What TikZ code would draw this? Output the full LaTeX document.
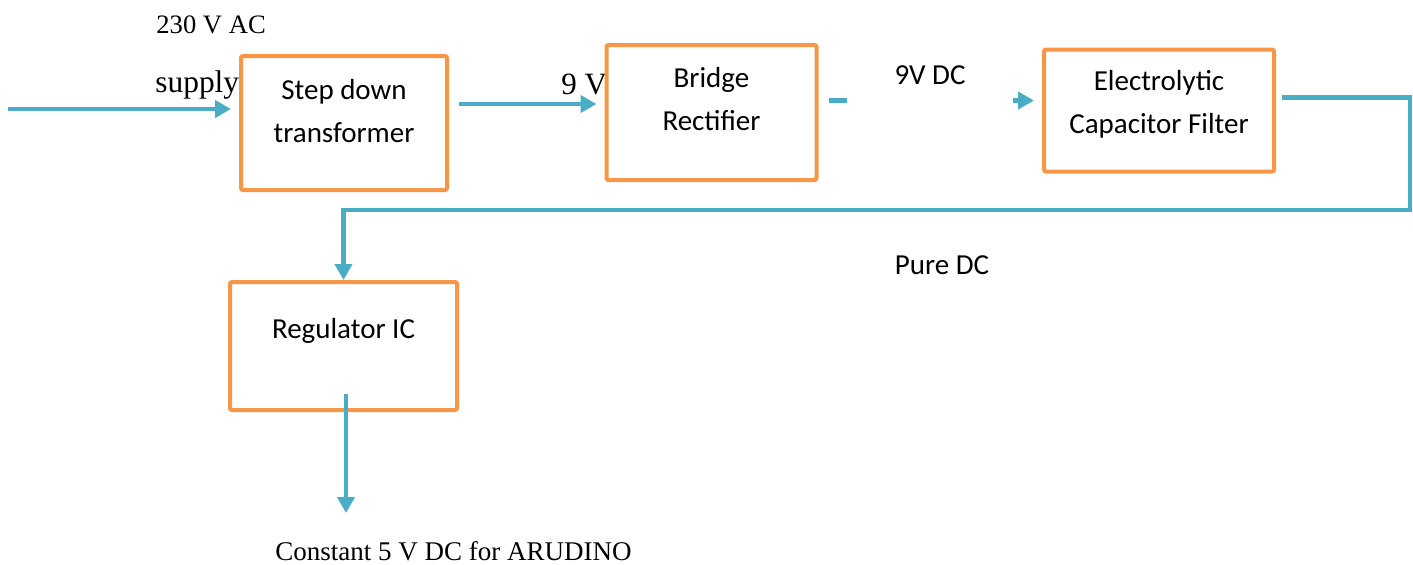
\documentclass[tikz,border=0pt]{standalone}
\usepackage{fontspec}
\setmainfont{Liberation Serif}
\newfontfamily\boxfont{Carlito}
\usetikzlibrary{arrows.meta, positioning}
\definecolor{boxorange}{HTML}{F79646}
\definecolor{flowblue}{HTML}{4BACC6}
\tikzset{
  block/.style={rectangle, rounded corners=1pt, draw=boxorange, line width=2pt, fill=white, inner sep=0pt},
  blocktext/.style={inner sep=0pt, align=center, font=\boxfont\fontsize{14.5}{21.5}\selectfont},
  tag/.style={rectangle, fill=white, inner sep=0pt, font=\boxfont\fontsize{14.5}{17}\selectfont},
  note/.style={inner sep=0pt, anchor=base west},
  arrow/.style={line width=2.3pt, draw=flowblue, -{Triangle[length=8pt, width=8.5pt]}}
}

\begin{document}
\begin{tikzpicture}[x=0.5pt, y=-0.5pt]
  \useasboundingbox (0,0) rectangle (1413,564);

  \node (ac) [note, font=\fontsize{13.3}{16}\selectfont] at (156,33) {230 V AC};
  \node (supply) [note, font=\fontsize{15.7}{19}\selectfont] at (155,92) {supply};
  \node (nine) [note, font=\fontsize{15.5}{19}\selectfont] at (561,94) {9 V};

  \node (tr) [block, minimum width=103pt, minimum height=67pt] at (344,123) {};
  \node (bridge) [block, minimum width=105pt, minimum height=67.5pt] at (711.5,112.5) {};
  \node (filter) [block, minimum width=115pt, minimum height=61pt] at (1159,110.5) {};
  \node (reg) [block, minimum width=113.5pt, minimum height=64pt] at (343.5,346) {};

  \node (trtext) [blocktext, below=12.5pt of tr.north] {Step down\\transformer};
  \node (bridgetext) [blocktext, below=12pt of bridge.north] {Bridge\\Rectifier};
  \node (filtertext) [blocktext, below=11pt of filter.north] {Electrolytic\\Capacitor Filter};
  \node (regtext) [blocktext, below=19pt of reg.north] {Regulator IC};

  \coordinate (src) at (8,109);
  \coordinate (bend) at (1410,210);
  \coordinate (load) at (346,513);

  \draw [arrow, shorten >=4pt] (src) -- (src -| tr.west);
  \draw [arrow, shorten <=5pt, shorten >=4pt] ([yshift=9.5pt]tr.east) -- ([yshift=9.5pt]tr.east -| bridge.west);
  \draw [arrow, shorten <=5pt, shorten >=4pt] ([yshift=6pt]bridge.east) -- ([yshift=6pt]bridge.east -| filter.west);
  \draw [arrow, shorten <=3pt] ([yshift=6.5pt]filter.east) -| (bend) -| (reg.north);
  \draw [arrow, shorten <=-9pt] (reg.south -| load) -- (load);

  \node (dc) [tag, minimum width=83pt, minimum height=32pt] at (930,75) {9V DC};
  \node (pure) [tag, inner sep=3pt] at (942,265) {Pure DC};

  \node (ardu) [note, font=\fontsize{13.5}{16}\selectfont] at (275,560) {Constant 5 V DC for ARUDINO};

\end{tikzpicture}
\end{document}
